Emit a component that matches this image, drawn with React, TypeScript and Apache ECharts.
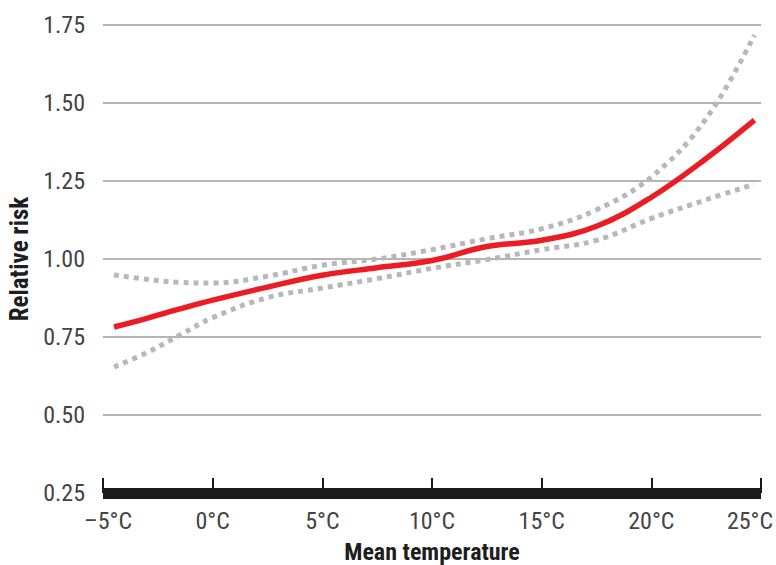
import React, { useEffect, useRef } from "react";
import * as echarts from "echarts";

const temps = [-4.5, -3, -1.5, 0, 2.5, 5, 7.5, 10, 12.5, 15, 17.5, 20, 22.5, 24.7];
const riskMain = [0.782, 0.81, 0.84, 0.868, 0.91, 0.948, 0.972, 0.995, 1.04, 1.06, 1.105, 1.198, 1.322, 1.445];
const riskUpper = [0.949, 0.935, 0.925, 0.923, 0.945, 0.98, 1.0, 1.03, 1.065, 1.097, 1.158, 1.263, 1.45, 1.718];
const riskLower = [0.654, 0.7, 0.756, 0.812, 0.876, 0.907, 0.937, 0.97, 0.998, 1.03, 1.06, 1.13, 1.19, 1.24];
const xTicks = [-5, 0, 5, 10, 15, 20, 25];
const xTickLabels = ["\u20135°C", "0°C", "5°C", "10°C", "15°C", "20°C", "25°C"];

const FONT = "'Liberation Sans Narrow', 'Arial Narrow', 'Roboto Condensed', 'Liberation Sans', sans-serif";

export default function App() {
  const ref = useRef<HTMLDivElement>(null);
  useEffect(() => {
    if (!ref.current) return;
    const chart = echarts.init(ref.current, null, { renderer: "svg" });
    const pair = (ys: number[]) => temps.map((t, i) => [t, ys[i]]);
    chart.setOption({
      animation: false,
      grid: { left: 103, right: 15, top: 25, bottom: 72, containLabel: false, outerBoundsMode: "none" },
      xAxis: {
        type: "value",
        min: -5,
        max: 25,
        interval: 5,
        name: "Mean temperature",
        nameLocation: "middle",
        nameGap: 47,
        nameTextStyle: { fontFamily: FONT, fontSize: 24, fontWeight: "bold", color: "#1e1e1e" },
        axisLine: { show: true, onZero: false, lineStyle: { color: "#1a1a1a", width: 11, cap: "butt" } },
        axisTick: { show: true, inside: true, length: 15, lineStyle: { color: "#1a1a1a", width: 2 } },
        axisLabel: {
          margin: 16,
          fontFamily: FONT,
          fontSize: 24,
          color: "#444",
          formatter: (v: number) => {
            const i = xTicks.indexOf(v);
            if (i < 0) return "";
            if (i === 0) return "{first|" + xTickLabels[i] + "}";
            if (i === xTicks.length - 1) return "{last|" + xTickLabels[i] + "}";
            return xTickLabels[i];
          },
          rich: {
            first: { fontFamily: FONT, fontSize: 24, color: "#444", padding: [0, 0, 0, 10] },
            last: { fontFamily: FONT, fontSize: 24, color: "#444", padding: [0, 22, 0, 0] },
          },
        },
        splitLine: { show: false },
      },
      yAxis: {
        type: "value",
        min: 0.25,
        max: 1.75,
        interval: 0.25,
        name: "Relative risk",
        nameLocation: "middle",
        nameGap: 67,
        nameTextStyle: { fontFamily: FONT, fontSize: 25, fontWeight: "bold", color: "#1e1e1e" },
        axisLine: { show: false },
        axisTick: { show: false },
        axisLabel: {
          margin: 18,
          fontFamily: FONT,
          fontSize: 24,
          color: "#444",
          formatter: (v: number) => v.toFixed(2),
        },
        splitLine: { show: true, lineStyle: { color: "#b4b4b4", width: 2 } },
      },
      series: [
        {
          type: "line",
          data: pair(riskUpper),
          smooth: 0.4,
          showSymbol: false,
          lineStyle: { color: "#b8b8b8", width: 5, type: [5, 5], cap: "butt" },
          z: 2,
        },
        {
          type: "line",
          data: pair(riskLower),
          smooth: 0.4,
          showSymbol: false,
          lineStyle: { color: "#b8b8b8", width: 5, type: [5, 5], cap: "butt" },
          z: 2,
        },
        {
          type: "line",
          data: pair(riskMain),
          smooth: 0.4,
          showSymbol: false,
          lineStyle: { color: "#ec1c24", width: 5.5 },
          z: 3,
        },
      ],
    });
    return () => chart.dispose();
  }, []);
  return <div ref={ref} style={{ width: 776, height: 565, position: "absolute", left: 0, top: 0, background: "#fff" }} />;
}
